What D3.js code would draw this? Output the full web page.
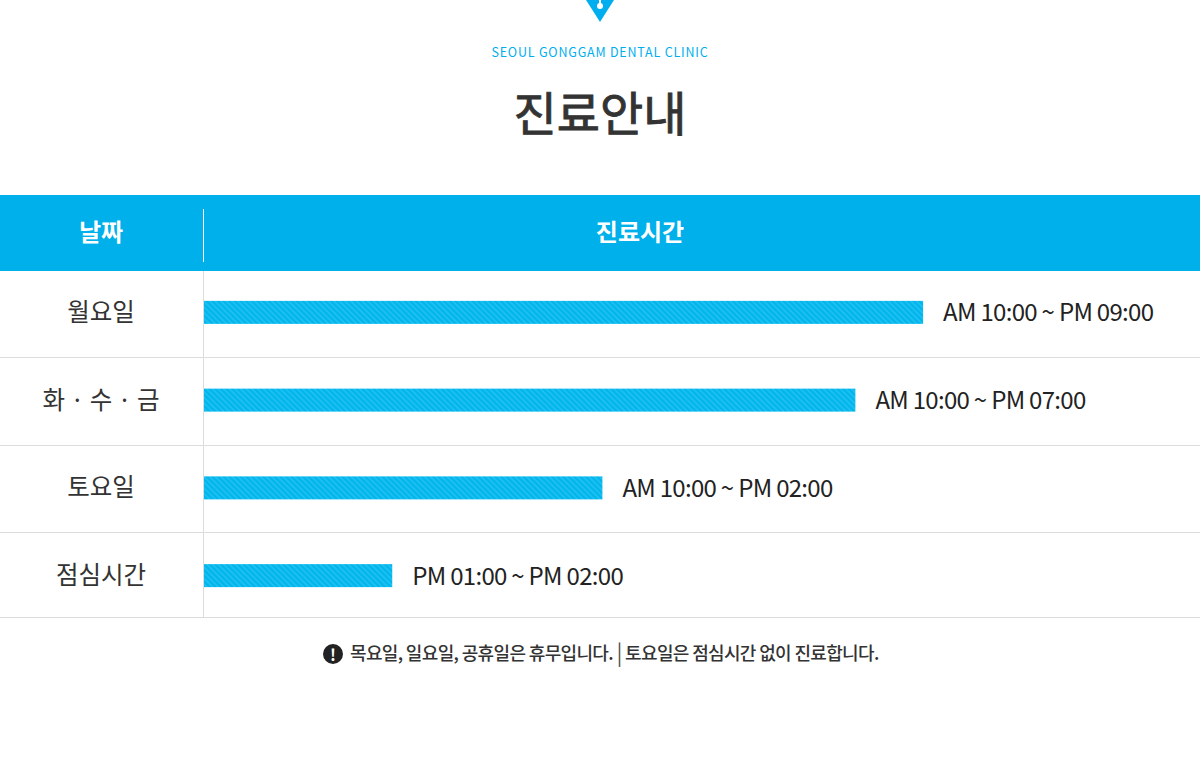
<!DOCTYPE html>
<html>
<head>
<meta charset="utf-8">
<script src="https://cdn.jsdelivr.net/npm/d3@7"></script>
<style>
  html, body { margin: 0; padding: 0; background: #fff; }
  svg { display: block; font-family: "Noto Sans CJK KR", "Noto Sans", sans-serif; }
</style>
</head>
<body>
<div id="chart"></div>
<script>
// schedule rows
const days = ['월요일', '화 · 수 · 금', '토요일', '점심시간'];
const hours = ['AM 10:00 ~ PM 09:00', 'AM 10:00 ~ PM 07:00', 'AM 10:00 ~ PM 02:00', 'PM 01:00 ~ PM 02:00'];
// bar length as % of the time column
const barPct = [72.2, 65.4, 40.0, 18.9];
const headers = ['날짜', '진료시간'];

const W = 1200, H = 764;
const blue = '#00b0eb';
const colX = 204;

const svg = d3.select('#chart').append('svg')
  .attr('width', W)
  .attr('height', H);

// stripe pattern for bars
const defs = svg.append('defs');
const pat = defs.append('pattern')
  .attr('id', 'stripe')
  .attr('patternUnits', 'userSpaceOnUse')
  .attr('width', 4)
  .attr('height', 4)
  .attr('patternTransform', 'rotate(45)');
pat.append('rect').attr('width', 4).attr('height', 4).attr('fill', '#00b6ec');
pat.append('rect').attr('width', 4).attr('height', 1.5).attr('fill', '#26c1f1');

// logo mark
svg.append('path')
  .attr('d', 'M586,0 L614,0 L600,22 Z')
  .attr('fill', '#00aeef');
svg.append('rect').attr('x', 599).attr('y', 0).attr('width', 2).attr('height', 5).attr('fill', '#fff');
svg.append('circle').attr('cx', 600).attr('cy', 6).attr('r', 3).attr('fill', '#fff');

svg.append('text')
  .attr('x', W / 2).attr('y', 57)
  .attr('text-anchor', 'middle')
  .attr('fill', '#00aeef')
  .attr('font-size', 12.5)
  .attr('letter-spacing', 0.8)
  .text('SEOUL GONGGAM DENTAL CLINIC');

svg.append('text')
  .attr('x', W / 2).attr('y', 131)
  .attr('text-anchor', 'middle')
  .attr('fill', '#333')
  .attr('stroke', '#333')
  .attr('stroke-width', 0.9)
  .attr('font-size', 47)
  .attr('font-weight', 400)
  .text('진료안내');

// header band
svg.append('rect')
  .attr('x', 0).attr('y', 195)
  .attr('width', W).attr('height', 76)
  .attr('fill', blue);
svg.append('line')
  .attr('x1', colX - 0.5).attr('x2', colX - 0.5)
  .attr('y1', 209).attr('y2', 262)
  .attr('stroke', '#fff').attr('stroke-width', 1);
svg.selectAll('.hdr').data(headers).join('text')
  .attr('class', 'hdr')
  .attr('x', (d, i) => i === 0 ? 101 : 640)
  .attr('y', 241)
  .attr('text-anchor', 'middle')
  .attr('fill', '#fff')
  .attr('font-size', 24)
  .attr('font-weight', 700)
  .text(d => d);

// rows
const y = d3.scaleBand()
  .domain(days)
  .range([270, 621]);

const x = d3.scaleLinear()
  .domain([0, 100])
  .range([colX, W]);

const tableBottom = 617;

svg.selectAll('.sep').data(days.slice(0, -1)).join('line')
  .attr('class', 'sep')
  .attr('x1', 0).attr('x2', W)
  .attr('y1', d => Math.round(y(d) + y.bandwidth()) - 0.5)
  .attr('y2', d => Math.round(y(d) + y.bandwidth()) - 0.5)
  .attr('stroke', '#dcdcdc');
svg.append('line')
  .attr('x1', 0).attr('x2', W)
  .attr('y1', tableBottom + 0.5).attr('y2', tableBottom + 0.5)
  .attr('stroke', '#dcdcdc');
svg.append('line')
  .attr('x1', colX - 0.5).attr('x2', colX - 0.5)
  .attr('y1', 271).attr('y2', tableBottom)
  .attr('stroke', '#dcdcdc');

const mid = d => y(d) + y.bandwidth() / 2 - 1.5;

svg.selectAll('.day').data(days).join('text')
  .attr('class', 'day')
  .attr('x', 101)
  .attr('y', d => mid(d) + 8.5)
  .attr('text-anchor', 'middle')
  .attr('fill', '#333')
  .attr('font-size', 24.5)
  .text(d => d);

svg.selectAll('.bar').data(days).join('rect')
  .attr('class', 'bar')
  .attr('x', x(0))
  .attr('y', d => mid(d) - 11.5)
  .attr('width', (d, i) => x(barPct[i]) - x(0))
  .attr('height', 23)
  .attr('fill', 'url(#stripe)');

svg.selectAll('.hrs').data(days).join('text')
  .attr('class', 'hrs')
  .attr('x', (d, i) => x(barPct[i]) + 20)
  .attr('y', d => mid(d) + 9)
  .attr('fill', '#222')
  .attr('font-size', 24)
  .attr('letter-spacing', -0.7)
  .text((d, i) => hours[i]);

// footnote
svg.append('circle').attr('cx', 333).attr('cy', 654).attr('r', 10).attr('fill', '#222');
svg.append('text')
  .attr('x', 333).attr('y', 660.5)
  .attr('text-anchor', 'middle')
  .attr('fill', '#fff')
  .attr('font-size', 16)
  .attr('font-weight', 700)
  .text('!');

const note = svg.append('text')
  .attr('x', 350).attr('y', 660)
  .attr('fill', '#333')
  .attr('font-size', 18)
  .attr('font-weight', 500)
  .attr('letter-spacing', -0.65);
note.append('tspan').text('목요일, 일요일, 공휴일은 휴무입니다. ');
note.append('tspan').attr('font-weight', 400).attr('fill', '#555').attr('font-size', 22).attr('dy', 1).text('|');
note.append('tspan').attr('dy', -1).text(' 토요일은 점심시간 없이 진료합니다.');
</script>
</body>
</html>
